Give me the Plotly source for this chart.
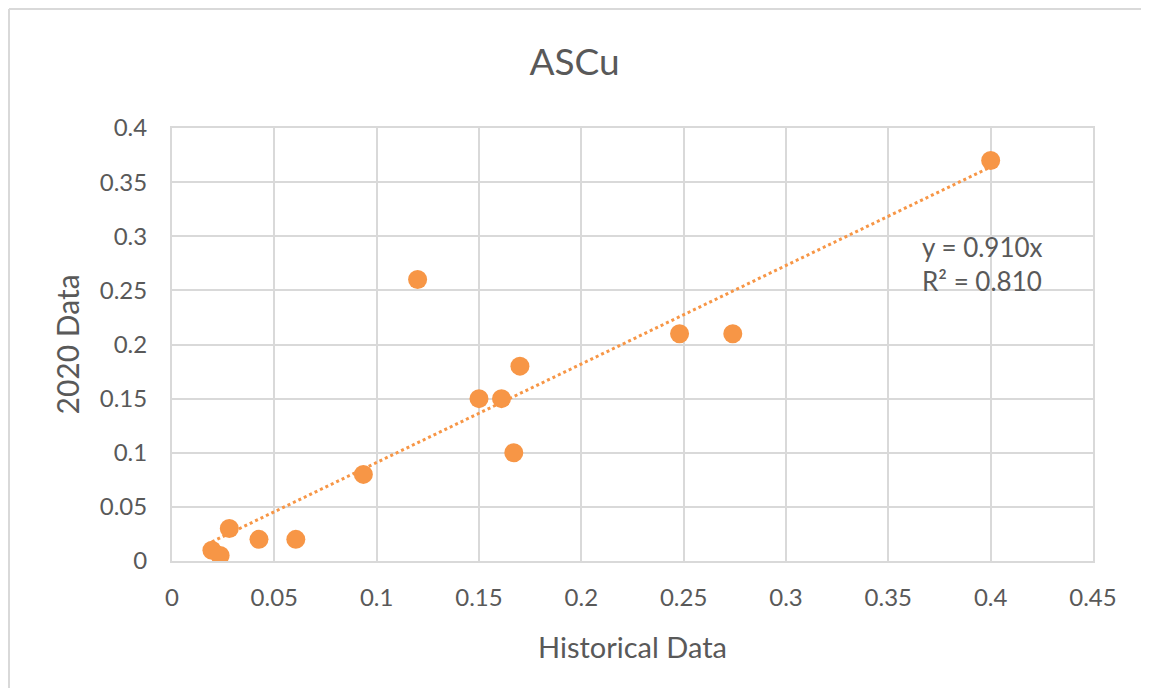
import plotly.graph_objects as go

hist = [0.0195, 0.0235, 0.028, 0.0425, 0.0605, 0.0935, 0.12, 0.15, 0.161, 0.17, 0.167, 0.248, 0.274, 0.4]
data2020 = [0.01, 0.005, 0.03, 0.02, 0.02, 0.08, 0.26, 0.15, 0.15, 0.18, 0.10, 0.21, 0.21, 0.37]
slope = 0.910
r2 = 0.810
xticks = [0, 0.05, 0.1, 0.15, 0.2, 0.25, 0.3, 0.35, 0.4, 0.45]
yticks = [0, 0.05, 0.1, 0.15, 0.2, 0.25, 0.3, 0.35, 0.4]

orange = "#F79646"
grey = "#595959"
gridc = "#D9D9D9"
FONT = "Lato"

W, H = 1133, 680
L, R, T, B = 164, 48, 120, 127
PW, PH = W - L - R, H - T - B

xmin, xmax = min(hist), max(hist)
fig = go.Figure()
fig.add_trace(go.Scatter(x=[xmin, xmax], y=[slope * xmin, slope * xmax], mode="lines",
                         line=dict(color=orange, width=3, dash="dot"), hoverinfo="skip"))
fig.add_trace(go.Scatter(x=hist, y=data2020, mode="markers",
                         marker=dict(color=orange, size=19, line=dict(width=0))))

fig.add_annotation(x=0.3655, y=0.307, xref="x", yref="y", xanchor="left", yanchor="top",
                   text=f"y = {slope:.3f}x<br>R² = {r2:.3f}", showarrow=False, align="left",
                   font=dict(size=26, color=grey, family=FONT))

# axis titles
fig.add_annotation(x=0.5, xref="paper", y=-85 / PH, yref="paper", xanchor="center", yanchor="middle",
                   text="Historical Data", showarrow=False, font=dict(size=29, color=grey, family=FONT))
fig.add_annotation(x=-106 / PW, xref="paper", y=0.5, yref="paper", xanchor="center", yanchor="middle",
                   text="2020 Data", textangle=-90, showarrow=False, font=dict(size=30, color=grey, family=FONT))

tickfont = dict(size=24, color=grey, family=FONT)
fig.update_xaxes(range=[0, 0.45], tickvals=xticks, ticktext=[f"{v:g}" for v in xticks],
                 showgrid=True, gridcolor=gridc, gridwidth=2, zeroline=False,
                 showline=True, linecolor=gridc, linewidth=2, mirror=True,
                 tickfont=tickfont, ticks="", ticklabelstandoff=14)
fig.update_yaxes(range=[0, 0.4], tickvals=yticks, ticktext=[f"{v:g}" for v in yticks],
                 showgrid=True, gridcolor=gridc, gridwidth=2, zeroline=False,
                 showline=True, linecolor=gridc, linewidth=2, mirror=True,
                 tickfont=tickfont, ticks="", ticklabelstandoff=18)

# outer chart border (top and left visible)
bx = (1 - L) / PW
by = 1 + (T - 1) / PH
fig.add_shape(type="line", xref="paper", yref="paper", x0=bx, x1=1.2, y0=by, y1=by,
              line=dict(color=gridc, width=2))
fig.add_shape(type="line", xref="paper", yref="paper", x0=bx, x1=bx, y0=-0.5, y1=by,
              line=dict(color=gridc, width=2))

fig.update_layout(
    width=W, height=H,
    margin=dict(l=L, r=R, t=T, b=B),
    paper_bgcolor="white", plot_bgcolor="white",
    showlegend=False,
    title=dict(text="ASCu", x=0.5, xanchor="center", y=1 - 54 / H, yanchor="middle",
               font=dict(size=37, color=grey, family=FONT)),
)
fig.write_html("out.html")
